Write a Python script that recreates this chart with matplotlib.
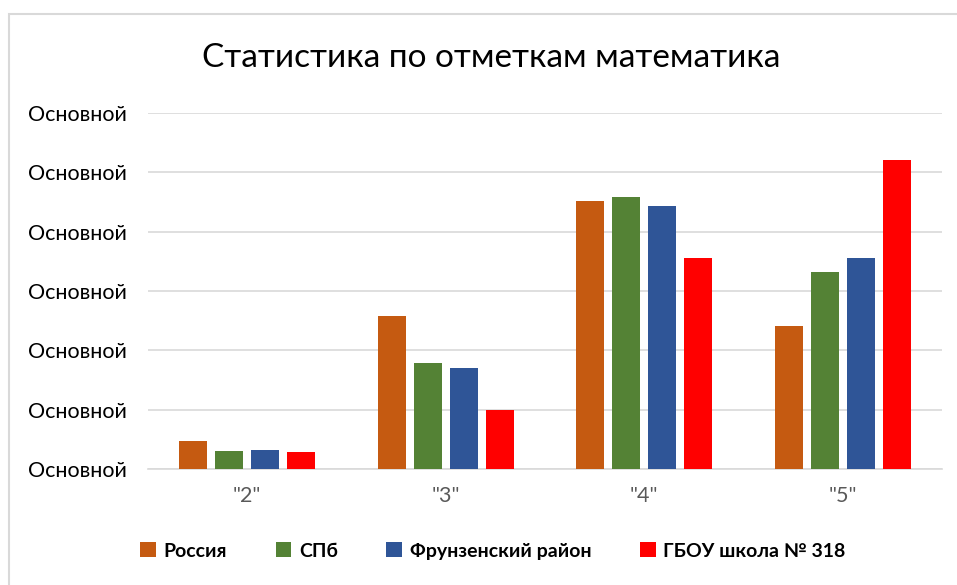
import numpy as np
import matplotlib.pyplot as plt
from matplotlib.patches import Rectangle

plt.rcParams['font.family'] = ['Lato', 'DejaVu Sans']

categories = ['"2"', '"3"', '"4"', '"5"']
russia = [4.8, 25.8, 45.1, 24.1]
spb = [3.0, 17.8, 45.8, 33.2]
frunz = [3.2, 17.0, 44.3, 35.5]
school = [2.9, 9.9, 35.5, 52.0]
series_names = ['Россия', 'СПб', 'Фрунзенский район', 'ГБОУ школа № 318']
colors = ['#C55A11', '#548235', '#2F5597', '#FF0000']
ytick_vals = [0, 10, 20, 30, 40, 50, 60]

fig = plt.figure(figsize=(9.57, 5.85), dpi=100)
ax = fig.add_axes([0.1547, 0.1983, 0.8297, 0.6085])

x = np.arange(len(categories))
pitch = 0.181
width = 0.141
for i, (vals, name, c) in enumerate(zip([russia, spb, frunz, school], series_names, colors)):
    ax.bar(x + (i - 1.5) * pitch, vals, width, color=c, label=name, zorder=3)

ax.set_xlim(-0.5, 3.5)
ax.set_ylim(0, 60)
ax.set_yticks(ytick_vals)
ax.set_yticklabels(['Основной'] * len(ytick_vals))
ax.set_xticks(x)
ax.set_xticklabels(categories)
ax.tick_params(axis='both', length=0)
ax.tick_params(axis='y', labelsize=15.5, labelcolor='#000000', pad=15)
ax.tick_params(axis='x', labelsize=15.5, labelcolor='#595959', pad=12)
ax.grid(axis='y', color='#d9d9d9', linewidth=1.2, zorder=0)
for s in ['top', 'right', 'left']:
    ax.spines[s].set_visible(False)
ax.spines['bottom'].set_color('#d9d9d9')
ax.spines['bottom'].set_linewidth(1.2)

fig.text(0.513, 0.901, 'Статистика по отметкам математика', ha='center', va='center',
         fontsize=24, color='#000000')

leg = fig.legend(loc='center', bbox_to_anchor=(0.515, 0.058), ncol=4, frameon=False,
                 prop={'weight': 'bold', 'size': 14}, handlelength=0.8, handleheight=0.8,
                 handletextpad=0.4, columnspacing=2.5)

fig.patches.append(Rectangle((9 / 957, -0.05), 1.1, 1 - 14 / 585 + 0.05,
                             transform=fig.transFigure, fill=False,
                             edgecolor='#d9d9d9', linewidth=1.5))

fig.savefig('out.png', dpi=100)
